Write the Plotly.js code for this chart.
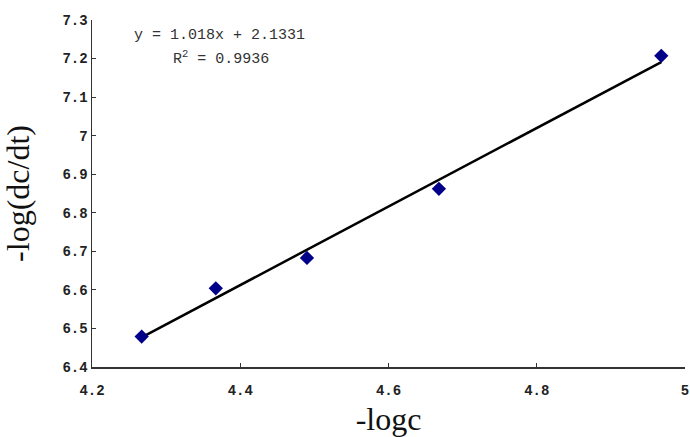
<!DOCTYPE html>
<html>
<head>
<meta charset="utf-8">
<script src="https://cdn.plot.ly/plotly-3.0.1.min.js"></script>
<style>html,body{margin:0;padding:0;background:#fff;}#chart{width:690px;height:437px;}</style>
</head>
<body>
<div id="chart"></div>
<script>
const xVals = [4.267, 4.367, 4.490, 4.668, 4.968];
const yVals = [6.479, 6.604, 6.683, 6.862, 7.207];
const fitX = [4.267, 4.968];
const fitY = [6.477, 7.191];
const xTicks = [4.2, 4.4, 4.6, 4.8, 5];
const yTicks = [6.4, 6.5, 6.6, 6.7, 6.8, 6.9, 7, 7.1, 7.2, 7.3];
const eqText = "y = 1.018x + 2.1331";
const r2Text = "R<sup>2</sup> = 0.9936";

const tickFont = {family: "Liberation Mono, DejaVu Sans Mono, monospace", size: 14, color: "#222", weight: "bold"};
const titleFont = {family: "Liberation Serif, Times New Roman, serif", size: 32, color: "#111"};

const data = [
  {x: fitX, y: fitY, mode: "lines", line: {color: "#000", width: 2.5}, hoverinfo: "skip", showlegend: false},
  {x: xVals, y: yVals, mode: "markers", marker: {symbol: "diamond", size: 11, color: "#000088"}, showlegend: false}
];

const layout = {
  width: 690, height: 437,
  margin: {l: 92, r: 5, t: 20, b: 70},
  paper_bgcolor: "#fff", plot_bgcolor: "#fff",
  xaxis: {
    range: [4.2, 5], tickvals: xTicks, ticks: "inside", ticklen: 4, tickcolor: "#333",
    showline: true, linecolor: "#333", linewidth: 1.5, showgrid: false, zeroline: false,
    tickfont: tickFont, ticklabelstandoff: 10,
    title: {text: "-logc", font: titleFont, standoff: 12}
  },
  yaxis: {
    range: [6.4, 7.3], tickvals: yTicks, ticks: "inside", ticklen: 4, tickcolor: "#333",
    showline: true, linecolor: "#333", linewidth: 1.5, showgrid: false, zeroline: false,
    tickfont: tickFont,
    title: {text: "-log(dc/dt)", font: titleFont, standoff: 26}
  },
  annotations: [
    {xref: "paper", yref: "paper", x: (219-92)/593, y: (366.7-35)/346.7, text: eqText, showarrow: false,
     font: {family: "Liberation Mono, DejaVu Sans Mono, monospace", size: 15, color: "#333"}, xanchor: "center", yanchor: "middle"},
    {xref: "paper", yref: "paper", x: (221-92)/593, y: (366.7-58)/346.7, text: r2Text, showarrow: false,
     font: {family: "Liberation Mono, DejaVu Sans Mono, monospace", size: 15, color: "#333"}, xanchor: "center", yanchor: "middle"}
  ]
};

Plotly.newPlot("chart", data, layout, {displayModeBar: false, staticPlot: true});
</script>
</body>
</html>
